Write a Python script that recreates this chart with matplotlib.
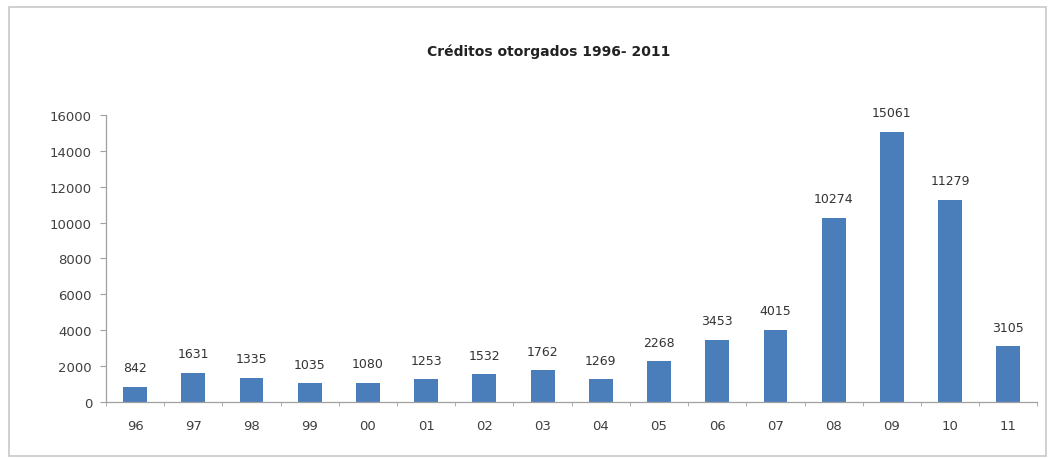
import numpy as np
import matplotlib
matplotlib.use("Agg")
import matplotlib.pyplot as plt
from matplotlib.patches import Rectangle

years = ["96", "97", "98", "99", "00", "01", "02", "03",
         "04", "05", "06", "07", "08", "09", "10", "11"]
creditos = [842, 1631, 1335, 1035, 1080, 1253, 1532, 1762,
            1269, 2268, 3453, 4015, 10274, 15061, 11279, 3105]
y_ticks = [0, 2000, 4000, 6000, 8000, 10000, 12000, 14000, 16000]

fig = plt.figure(figsize=(10.49, 4.6), dpi=100)
ax = fig.add_axes([0.101, 0.124, 0.888, 0.624])

# light frame around the whole chart
fig.patches.append(Rectangle((0.009, 0.006), 0.988, 0.976, transform=fig.transFigure,
                             fill=False, edgecolor="#c8c8c8", linewidth=1.2))

x = np.arange(len(years))
ax.bar(x, creditos, width=0.41, color="#4A7EBB")

for xi, v in zip(x, creditos):
    ax.text(xi, v + 700, str(v), ha="center", va="bottom", fontsize=9, color="#333333")

ax.set_xlim(-0.5, len(years) - 0.5)
ax.set_ylim(0, 16000)
ax.set_yticks(y_ticks)
ax.set_xticks(x)
ax.set_xticklabels(years)
ax.set_xticks(np.arange(-0.5, len(years) + 0.5, 1), minor=True)

for s in ["top", "right"]:
    ax.spines[s].set_visible(False)
for s in ["left", "bottom"]:
    ax.spines[s].set_color("#a0a0a0")
    ax.spines[s].set_linewidth(0.9)

ax.tick_params(axis="y", labelsize=9.5, colors="#404040", length=4, color="#a0a0a0", pad=6)
ax.tick_params(axis="x", which="major", labelsize=9.5, colors="#404040", length=0, pad=12)
ax.tick_params(axis="x", which="minor", length=3, color="#a0a0a0")

fig.text(0.523, 0.888, "Créditos otorgados 1996- 2011", ha="center", va="center",
         fontsize=10, fontweight="bold", color="#222222")

fig.savefig("out.png", dpi=100)
